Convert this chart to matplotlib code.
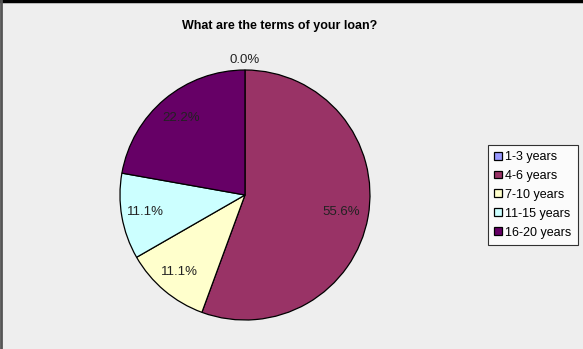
import numpy as np
import matplotlib.pyplot as plt

categories = ['1-3 years', '4-6 years', '7-10 years', '11-15 years', '16-20 years']
shares = [0.0, 55.6, 11.1, 11.1, 22.2]
colors = ['#9999FF', '#993366', '#FFFFCC', '#CCFFFF', '#660066']
label_radius = [1.08, 0.78, 0.81, 0.81, 0.8]
title = 'What are the terms of your loan?'

plt.rcParams['font.family'] = ['Liberation Sans', 'DejaVu Sans']

fig = plt.figure(figsize=(5.83, 3.49), dpi=100)
fig.patch.set_facecolor('#EEEEEE')

ax = fig.add_axes([0.2058, 0.0831, 0.4288, 0.7163])
wedges, _ = ax.pie(shares, colors=colors, startangle=90, counterclock=False,
                   wedgeprops=dict(edgecolor='black', linewidth=0.9))
ax.set_xlim(-1, 1)
ax.set_ylim(-1, 1)
ax.set_aspect('equal')

# percentage labels along each wedge's middle angle
for w, val, r in zip(wedges, shares, label_radius):
    ang = np.deg2rad((w.theta1 + w.theta2) / 2)
    ax.text(r * np.cos(ang), r * np.sin(ang), f'{val:.1f}%',
            ha='center', va='center', fontsize=9.5, color='#222222')

fig.text(0.479, 0.925, title, ha='center', va='center',
         fontsize=9, fontweight='bold')

leg = fig.legend(wedges, categories, loc='upper left',
                 bbox_to_anchor=(0.826, 0.603), frameon=True, fontsize=9,
                 handlelength=0.6, handleheight=0.6, handletextpad=0.3,
                 labelspacing=0.55, borderpad=0.5, fancybox=False)
leg.get_frame().set_edgecolor('black')
leg.get_frame().set_linewidth(0.8)
leg.get_frame().set_facecolor('white')

# frame lines on top and left
fig.add_artist(plt.Line2D([0, 1], [0.996, 0.996], color='black', lw=2.5,
                          transform=fig.transFigure))
fig.add_artist(plt.Line2D([0.002, 0.002], [0, 1], color='#555555', lw=2,
                          transform=fig.transFigure))

fig.savefig('out.png', dpi=100, facecolor=fig.get_facecolor())
